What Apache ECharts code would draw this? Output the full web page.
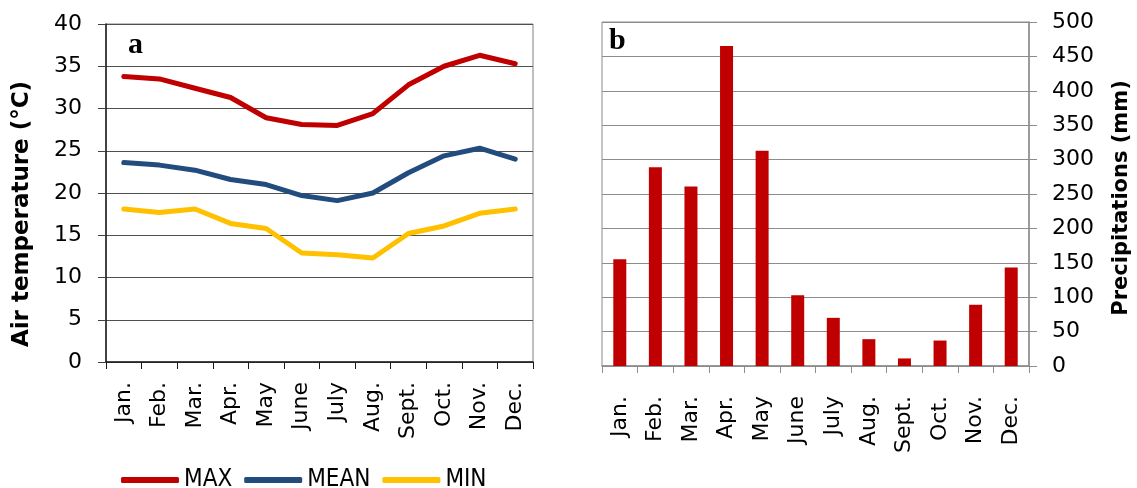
<!DOCTYPE html>
<html>
<head>
<meta charset="utf-8">
<script src="https://cdn.jsdelivr.net/npm/echarts@6/dist/echarts.min.js"></script>
<style>
html,body{margin:0;padding:0;background:#fff;}
#chart{width:1137px;height:488px;}
</style>
</head>
<body>
<div id="chart"></div>
<script>
const months = ['Jan.', 'Feb.', 'Mar.', 'Apr.', 'May', 'June', 'July', 'Aug.', 'Sept.', 'Oct.', 'Nov.', 'Dec.'];
const tMax  = [33.8, 33.5, 32.4, 31.3, 28.9, 28.1, 28.0, 29.4, 32.8, 35.0, 36.3, 35.3];
const tMean = [23.6, 23.3, 22.7, 21.6, 21.0, 19.7, 19.1, 20.0, 22.4, 24.4, 25.3, 24.0];
const tMin  = [18.1, 17.7, 18.1, 16.4, 15.8, 12.9, 12.7, 12.3, 15.2, 16.1, 17.6, 18.1];
const precip = [155, 289, 261, 465, 313, 103, 70, 39, 11, 37, 89, 143];
const seriesNames = ['MAX', 'MEAN', 'MIN'];
const leftTitle = 'Air temperature (°C)';
const rightTitle = 'Precipitations (mm)';

const FONT = "'DejaVu Sans', Verdana, sans-serif";
const chart = echarts.init(document.getElementById('chart'), null, {renderer: 'canvas'});

const option = {
  backgroundColor: '#ffffff',
  animation: false,
  grid: [
    {left: 106, top: 24, width: 427, height: 338, show: true, borderColor: '#808080', borderWidth: 1},
    {left: 602, top: 22, width: 427, height: 344, show: true, borderColor: '#8c8c8c', borderWidth: 1}
  ],
  legend: {
    data: seriesNames,
    left: 116, top: 463,
    icon: 'roundRect',
    itemWidth: 58, itemHeight: 6,
    itemGap: 12,
    textStyle: {fontFamily: "'DejaVu Sans Condensed', 'Liberation Sans Narrow', 'DejaVu Sans', sans-serif", fontSize: 24, color: '#000'}
  },
  xAxis: [
    {
      type: 'category', gridIndex: 0, data: months, boundaryGap: true,
      axisLine: {show: true, lineStyle: {color: '#1a1a1a', width: 1.5}},
      axisTick: {show: true, length: 7, lineStyle: {color: '#1a1a1a'}},
      axisLabel: {rotate: 90, margin: 20, fontFamily: FONT, fontSize: 22, color: '#000', interval: 0},
      splitLine: {show: false}
    },
    {
      type: 'category', gridIndex: 1, data: months, boundaryGap: true,
      axisLine: {show: true, lineStyle: {color: '#8c8c8c', width: 1.5}},
      axisTick: {show: true, length: 7, lineStyle: {color: '#8c8c8c'}},
      axisLabel: {rotate: 90, margin: 30, fontFamily: FONT, fontSize: 22, color: '#000', interval: 0},
      splitLine: {show: false}
    }
  ],
  yAxis: [
    {
      type: 'value', gridIndex: 0, min: 0, max: 40, interval: 5,
      axisLine: {show: true, lineStyle: {color: '#1a1a1a', width: 1.5}},
      axisTick: {show: true, length: 8, lineStyle: {color: '#404040'}},
      axisLabel: {margin: 24, fontFamily: FONT, fontSize: 22, color: '#000'},
      splitLine: {show: true, lineStyle: {color: '#505050', width: 1}}
    },
    {
      type: 'value', gridIndex: 1, position: 'right', min: 0, max: 500, interval: 50,
      axisLine: {show: true, lineStyle: {color: '#8c8c8c', width: 1.5}},
      axisTick: {show: true, length: 8, lineStyle: {color: '#8c8c8c'}},
      axisLabel: {margin: 23, fontFamily: FONT, fontSize: 22, color: '#000'},
      splitLine: {show: true, lineStyle: {color: '#8c8c8c', width: 1}}
    }
  ],
  series: [
    {name: seriesNames[0], type: 'line', xAxisIndex: 0, yAxisIndex: 0, data: tMax, showSymbol: false, symbol: 'none',
     itemStyle: {color: '#C00000'}, lineStyle: {color: '#C00000', width: 5, cap: 'round', join: 'round'}},
    {name: seriesNames[1], type: 'line', xAxisIndex: 0, yAxisIndex: 0, data: tMean, showSymbol: false, symbol: 'none',
     itemStyle: {color: '#234C7E'}, lineStyle: {color: '#234C7E', width: 5, cap: 'round', join: 'round'}},
    {name: seriesNames[2], type: 'line', xAxisIndex: 0, yAxisIndex: 0, data: tMin, showSymbol: false, symbol: 'none',
     itemStyle: {color: '#FFC000'}, lineStyle: {color: '#FFC000', width: 5, cap: 'round', join: 'round'}},
    {name: 'Precipitation', type: 'bar', xAxisIndex: 1, yAxisIndex: 1, data: precip, barWidth: 13,
     itemStyle: {color: '#C00000'}}
  ],
  graphic: [
    {type: 'text', x: 22, y: 214, rotation: Math.PI / 2,
     style: {text: leftTitle, font: "bold 23px 'DejaVu Sans', Verdana, sans-serif", fill: '#000', textAlign: 'center', textVerticalAlign: 'middle'}},
    {type: 'text', x: 1122, y: 198, rotation: Math.PI / 2,
     style: {text: rightTitle, font: "bold 21px 'DejaVu Sans', Verdana, sans-serif", fill: '#000', textAlign: 'center', textVerticalAlign: 'middle'}},
    {type: 'text', x: 128, y: 45,
     style: {text: 'a', font: "bold 30px 'Liberation Serif', 'Times New Roman', serif", fill: '#000', textAlign: 'left', textVerticalAlign: 'middle'}},
    {type: 'text', x: 609, y: 41,
     style: {text: 'b', font: "bold 30px 'Liberation Serif', 'Times New Roman', serif", fill: '#000', textAlign: 'left', textVerticalAlign: 'middle'}}
  ]
};
chart.setOption(option);
</script>
</body>
</html>
